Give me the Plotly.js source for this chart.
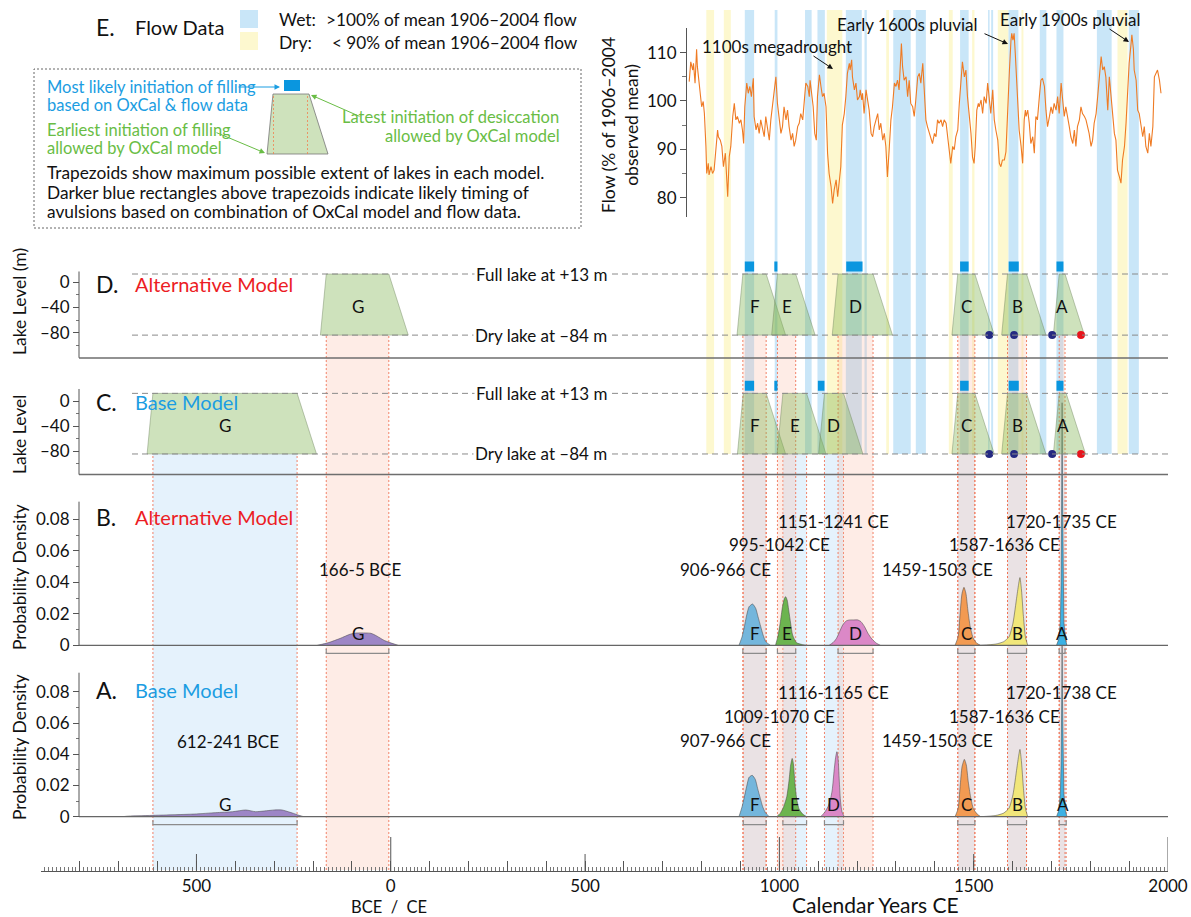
<!DOCTYPE html>
<html><head><meta charset="utf-8">
<script src="https://cdn.plot.ly/plotly-3.0.1.min.js"></script>
<style>html,body{margin:0;padding:0;background:#fff}#chart{width:1191px;height:917px}</style>
</head><body><div id="chart"></div>
<script>
// ---------------- DATA ----------------
// Reconstructed Colorado River flow (% of 1906–2004 observed mean), smoothed
const flowRecord = [
[768,104.0],[772,108.1],[777,106.4],[779,107.8],[783,103.7],[787,110.7],[789,107.1],[794,103.0],[796,101.9],[800,98.8],
[804,99.9],[807,97.4],[811,90.6],[813,85.0],[817,87.1],[819,84.7],[824,86.4],[828,85.0],[832,85.7],[837,90.6],
[841,94.0],[843,92.6],[848,91.9],[852,90.6],[856,86.4],[861,89.2],[864,83.7],[867,80.2],[871,88.5],[875,90.6],
[880,96.8],[884,99.5],[888,96.1],[892,96.8],[897,95.4],[901,96.1],[905,94.0],[908,91.2],[911,98.8],[916,103.7],
[920,101.6],[924,103.0],[928,100.9],[933,104.7],[935,96.8],[940,94.0],[944,95.4],[948,93.3],[952,96.1],[957,94.0],
[961,92.6],[965,96.8],[970,94.0],[974,91.9],[978,96.1],[982,98.8],[987,101.6],[991,105.0],[995,99.5],[1000,96.1],
[1004,93.3],[1008,94.7],[1012,98.8],[1017,96.1],[1021,98.1],[1025,94.7],[1030,91.9],[1034,93.3],[1038,90.6],[1042,91.9],
[1047,94.7],[1051,95.4],[1055,97.4],[1060,96.1],[1064,100.9],[1068,103.7],[1073,103.0],[1077,100.9],[1079,104.3],[1083,101.6],
[1087,98.8],[1091,93.3],[1095,91.9],[1098,100.9],[1103,105.4],[1107,103.0],[1111,100.9],[1115,101.6],[1120,98.8],[1124,89.2],
[1128,85.0],[1133,82.3],[1137,78.8],[1141,81.6],[1146,83.7],[1150,80.2],[1154,84.3],[1158,86.4],[1162,95.0],[1167,97.4],
[1171,100.9],[1175,105.7],[1180,107.8],[1182,106.4],[1186,108.5],[1188,105.0],[1193,102.3],[1197,103.7],[1201,100.2],[1206,100.9],
[1208,102.3],[1212,100.2],[1214,101.6],[1218,97.4],[1223,102.3],[1227,100.2],[1231,98.1],[1236,93.3],[1240,92.6],[1244,94.7],
[1248,96.1],[1253,97.4],[1257,94.0],[1261,95.4],[1266,91.9],[1270,93.3],[1274,90.6],[1278,84.3],[1283,90.6],[1287,96.1],
[1291,98.8],[1296,103.7],[1300,103.0],[1304,104.3],[1308,102.3],[1311,107.8],[1314,111.9],[1317,107.1],[1321,104.3],[1326,105.0],
[1330,100.9],[1334,104.3],[1338,99.5],[1343,98.8],[1347,96.8],[1351,100.2],[1356,105.0],[1360,105.7],[1364,103.7],[1369,107.8],
[1373,100.2],[1377,96.1],[1381,94.7],[1386,93.3],[1390,91.9],[1394,91.2],[1399,93.3],[1403,92.6],[1407,96.1],[1411,95.4],
[1416,96.1],[1420,94.7],[1424,96.1],[1429,95.4],[1433,92.6],[1437,89.2],[1441,87.1],[1446,90.6],[1450,89.9],[1454,92.6],
[1459,94.0],[1463,99.5],[1467,104.3],[1471,108.1],[1476,105.0],[1480,106.4],[1484,100.9],[1489,97.4],[1493,93.3],[1497,88.4],
[1501,87.1],[1504,90.6],[1508,98.1],[1512,99.5],[1514,98.8],[1519,100.2],[1523,97.4],[1527,100.9],[1532,99.5],[1536,103.7],
[1540,100.2],[1544,97.4],[1549,102.3],[1553,96.1],[1557,94.0],[1562,91.9],[1566,87.1],[1570,86.4],[1574,87.8],[1579,87.8],
[1583,89.5],[1586,96.1],[1589,103.0],[1592,106.4],[1596,112.6],[1598,114.0],[1601,112.6],[1604,114.0],[1607,109.9],[1610,105.7],
[1613,99.5],[1617,94.0],[1622,90.6],[1626,87.1],[1630,96.1],[1633,98.1],[1635,96.8],[1639,98.1],[1643,95.4],[1647,91.2],
[1652,92.6],[1656,89.2],[1660,96.8],[1664,96.1],[1669,100.9],[1673,104.3],[1677,104.7],[1682,103.0],[1686,98.1],[1690,94.7],
[1695,96.8],[1699,98.8],[1703,97.4],[1707,99.5],[1712,98.1],[1716,100.9],[1720,97.4],[1725,103.7],[1729,100.2],[1733,96.8],
[1737,98.8],[1742,96.8],[1746,94.7],[1750,92.6],[1755,91.2],[1759,94.0],[1763,90.6],[1767,94.7],[1772,96.1],[1776,98.8],
[1780,97.4],[1785,96.8],[1789,96.1],[1793,94.7],[1797,93.3],[1802,90.6],[1806,91.9],[1810,95.4],[1815,97.4],[1819,100.9],
[1823,104.3],[1828,109.2],[1832,106.4],[1836,107.1],[1840,105.0],[1845,98.1],[1849,105.0],[1853,101.6],[1858,96.1],[1862,93.3],
[1866,91.9],[1870,85.7],[1875,84.3],[1879,83.0],[1883,87.8],[1888,90.6],[1892,95.4],[1896,103.0],[1900,107.8],[1905,111.9],
[1907,113.7],[1911,110.7],[1913,106.4],[1918,104.3],[1922,98.1],[1926,97.4],[1930,94.7],[1935,92.6],[1939,94.7],[1943,90.6],
[1948,89.2],[1952,93.3],[1956,90.6],[1961,94.7],[1965,105.0],[1969,105.7],[1973,106.4],[1978,104.3],[1982,101.6]
];
const flowYears = flowRecord.map(d => d[0]);
const flowPct = flowRecord.map(d => d[1]);

// Wet (>100%) and dry (<90%) periods
const wetPeriods = [[911,935],[988,995],[1066,1083],[1098,1117],[1171,1212],[1219,1225],[1293,1338],[1351,1377],
  [1465,1487],[1537,1541],[1545,1550],[1589,1615],[1670,1687],[1713,1731],[1817,1855],[1899,1925]];
const dryPeriods = [[812,832],[857,875],[1122,1162],[1275,1282],[1436,1446],[1496,1502],[1562,1589],[1623,1628],[1870,1896]];

// Lakes (oldest to youngest)
const lakeNames = ['G','F','E','D','C','B','A'];
// Alternative model: filling start, full from, desiccation start, dry at
const altFillStart = [-181, 891, 980, 1136, 1444, 1572, 1705];
const altStart     = [-166, 906, 995, 1151, 1459, 1587, 1720];
const altEnd       = [-5,   966, 1042, 1241, 1503, 1636, 1735];
const altDryEnd    = [45,  1016, 1092, 1291, 1553, 1686, 1785];
// Base model
const baseFillStart = [-627, 892, 994, 1101, 1444, 1572, 1705];
const baseStart     = [-612, 907, 1009, 1116, 1459, 1587, 1720];
const baseEnd       = [-241, 966, 1070, 1165, 1503, 1636, 1738];
const baseDryEnd    = [-191, 1016, 1120, 1215, 1553, 1686, 1788];
const fullLakeLevel = 13, dryLakeLevel = -84;

// Most likely avulsion timing (blue rectangles)
const altAvulsion  = [[911,935],[987,995],[1172,1214],[1465,1487],[1590,1616],[1713,1731]];
const baseAvulsion = [[911,935],[987,995],[1099,1116],[1465,1487],[1590,1616],[1713,1731]];

// Historic observations at the dry-lake level
const obsYears = [1540, 1604, 1702, 1776];
const obsColors = ['#252a82','#252a82','#252a82','#e8141c'];

// Probability densities (OxCal), alternative model
const altDensYears = {
  G:[-189,-160,-130,-105,-90,-51,-36,-16,19],
  F:[896,904,909,916,922,931,939,945,952,958,965,977],
  E:[990,996,1002,1008,1013,1016,1020,1024,1029,1034,1044,1060,1070],
  D:[1128,1138,1147,1155,1163,1172,1181,1192,1202,1210,1219,1228,1238,1250,1260],
  C:[1452,1460,1465,1470,1475,1480,1485,1491,1499,1508,1518],
  B:[1518,1557,1577,1591,1601,1611,1616,1619,1623,1628,1633,1639],
  A:[1713,1719,1723,1725,1726.5,1727.5,1728.5,1730,1732,1736,1740]
};
const altDens = {
  G:[0,0.0017,0.0044,0.0070,0.0078,0.0076,0.0059,0.0030,0],
  F:[0,0.0055,0.0108,0.0193,0.0245,0.0262,0.0235,0.0182,0.0119,0.0066,0.0023,0],
  E:[0,0.0055,0.0140,0.0245,0.0298,0.0309,0.0288,0.0224,0.0140,0.0066,0.0017,0.0004,0],
  D:[0,0.0017,0.0044,0.0087,0.0129,0.0155,0.0161,0.0161,0.0161,0.0150,0.0119,0.0076,0.0040,0.0013,0],
  C:[0,0.0055,0.0203,0.0330,0.0368,0.0330,0.0224,0.0119,0.0044,0.0013,0],
  B:[0,0.0008,0.0023,0.0055,0.0140,0.0310,0.0394,0.0430,0.0351,0.0182,0.0055,0],
  A:[0,0.004,0.015,0.040,0.100,0.154,0.100,0.040,0.015,0.004,0]
};
// Base model
const baseDensYears = {
  G:[-690,-675,-605,-506,-450,-407,-373,-348,-320,-300,-280,-264,-250,-239,-224],
  F:[896,904,909,916,922,930,938,944,951,957,964,974],
  E:[993,1002,1011,1019,1025,1029,1033,1036,1040,1045,1051,1060,1070],
  D:[1106,1116,1125,1131,1136,1141,1145,1148,1151,1154,1157,1161,1167],
  C:[1452,1460,1465,1470,1476,1481,1486,1492,1499,1509,1518],
  B:[1518,1557,1577,1591,1601,1611,1616,1619,1623,1628,1633,1639],
  A:[1713,1719,1723,1725,1726.5,1727.5,1728.5,1730,1732,1736,1740]
};
const baseDens = {
  G:[0,0.0004,0.0009,0.0017,0.0026,0.0032,0.0043,0.0032,0.0038,0.0043,0.0043,0.0032,0.0021,0.0011,0],
  F:[0,0.0064,0.0117,0.0196,0.0252,0.0265,0.0239,0.0181,0.0117,0.0064,0.0026,0],
  E:[0,0.0021,0.0064,0.0128,0.0235,0.0331,0.0373,0.0341,0.0213,0.0107,0.0047,0.0017,0],
  D:[0,0.0026,0.0064,0.0107,0.0171,0.0299,0.0384,0.0416,0.0373,0.0235,0.0107,0.0032,0],
  C:[0,0.0053,0.0192,0.0320,0.0367,0.0331,0.0224,0.0128,0.0053,0.0017,0],
  B:[0,0.0008,0.0023,0.0055,0.0140,0.0310,0.0394,0.0431,0.0351,0.0182,0.0055,0],
  A:[0,0.004,0.015,0.035,0.075,0.110,0.075,0.035,0.015,0.004,0]
};
const lakeColors = {G:'#9d86c6',F:'#74b6dc',E:'#6cb44f',D:'#db88c7',C:'#f29a52',B:'#f1e67a',A:'#3cb1e4'};

// Bottom-axis tick labels
const yearTickLabels = {'-500':'500','0':'0','500':'500','1000':'1000','1500':'1500','2000':'2000'};

// ---------------- LAYOUT GEOMETRY ----------------
const FONT = 'Lato, "Open Sans", sans-serif';
const L=41, R=1168, T=8, B=871;
const px = x => (x-L)/(R-L);
const py = y => (B-y)/(B-T);
const geo = {
  y:  {top:637.1, bot:816.7, r:[0,0.115]},     // A. base prob
  y2: {top:399.6, bot:645.3, r:[0,0.156]},     // B. alt prob
  y3: {top:376.5, bot:474.6, r:[-117,40]},     // C. base lake
  y4: {top:257.0, bot:357.8, r:[-120,40]},     // D. alt lake
  y5: {top:28,    bot:217,   r:[76,115.1]}     // E. flow
};
const dom = g => [py(g.bot), py(g.top)];
function toPix(ax,v){const g=geo[ax];return g.bot-(v-g.r[0])/(g.r[1]-g.r[0])*(g.bot-g.top);}
function toPaper(ax,v){return py(toPix(ax,v));}
const AXX = px(79);

const shapes = [];
const annotations = [];
const traces = [];

// wet/dry bands
const bandBot = toPaper('y3', dryLakeLevel), bandTop = py(10);
wetPeriods.forEach(p => shapes.push({type:'rect',xref:'x',yref:'paper',x0:p[0],x1:p[1],y0:bandBot,y1:bandTop,fillcolor:'#c9e6f8',line:{width:0},layer:'below'}));
dryPeriods.forEach(p => shapes.push({type:'rect',xref:'x',yref:'paper',x0:p[0],x1:p[1],y0:bandBot,y1:bandTop,fillcolor:'#fdf8cf',line:{width:0},layer:'below'}));

// date-range columns
const colBot = py(870);
function column(a,b,top,fill){
  shapes.push({type:'rect',xref:'x',yref:'paper',x0:a,x1:b,y0:colBot,y1:top,fillcolor:fill,line:{width:0},layer:'below'});
  [a,b].forEach(v => shapes.push({type:'line',xref:'x',yref:'paper',x0:v,x1:v,y0:colBot,y1:top,line:{color:'rgba(240,110,80,0.85)',width:1,dash:'2px,2px'},layer:'below'}));
}
lakeNames.forEach((n,i) => column(baseStart[i], baseEnd[i], toPaper('y3',dryLakeLevel), 'rgba(175,215,245,0.32)'));
lakeNames.forEach((n,i) => column(altStart[i], altEnd[i], toPaper('y4',dryLakeLevel), 'rgba(250,180,155,0.25)'));

// panel frames
function hline(yp, x0, color, w, dash, layer){shapes.push({type:'line',xref:'paper',yref:'paper',x0:x0,x1:1,y0:py(yp),y1:py(yp),line:{color:color,width:w,dash:dash||'solid'},layer:layer||'above'});}
function vline(y0,y1){shapes.push({type:'line',xref:'paper',yref:'paper',x0:AXX,x1:AXX,y0:py(y0),y1:py(y1),line:{color:'#555',width:1}});}
hline(toPix('y4',-120)+0.2, AXX, '#6e6e6e', 1.5);
hline(474.6, AXX, '#6e6e6e', 1.5);
hline(645.3, AXX, '#666', 1.3);
hline(816.7, AXX, '#666', 1.3);
vline(toPix('y4',-120), toPix('y4',17));
vline(474.6, toPix('y3',20));
vline(645.3, toPix('y2',0.0912));
vline(816.7, toPix('y',0.0922));
// dashed full/dry lake lines
['y4','y3'].forEach(ax => [fullLakeLevel, dryLakeLevel].forEach(v =>
  shapes.push({type:'line',xref:'paper',yref:ax,x0:px(132),x1:1,y0:v,y1:v,line:{color:'#8a8a8a',width:1,dash:'6px,4px'},layer:'above'})));

// brackets under distributions
function bracket(a,b,yb){
  shapes.push({type:'path',xref:'x',yref:'paper',path:`M ${a},${py(yb+3.5)} L ${a},${py(yb+8)} L ${b},${py(yb+8)} L ${b},${py(yb+3.5)}`,line:{color:'#8c8c8c',width:1.2}});
}
lakeNames.forEach((n,i)=>{bracket(altStart[i],altEnd[i],645.3); bracket(baseStart[i],baseEnd[i],816.7);});

// ruler long ticks
[[-500,17],[0,34],[500,17],[1000,34],[1500,17],[2000,34]].forEach(t =>
  shapes.push({type:'line',xref:'x',yref:'paper',x0:t[0],x1:t[0],y0:py(871),y1:py(871-t[1]),line:{color:'#555',width:1}}));

// ---------------- TRACES ----------------
// flow
traces.push({type:'scatter',mode:'lines',x:flowYears,y:flowPct,xaxis:'x',yaxis:'y5',line:{color:'#ef7b24',width:1.1},hoverinfo:'skip'});

// trapezoids
function trapezoids(ax, fs, s, e, de){
  lakeNames.forEach((n,i)=>{
    traces.push({type:'scatter',mode:'lines',xaxis:'x',yaxis:ax,
      x:[fs[i],s[i],e[i],de[i],fs[i]],y:[dryLakeLevel,fullLakeLevel,fullLakeLevel,dryLakeLevel,dryLakeLevel],
      fill:'toself',fillcolor:'rgba(125,178,78,0.38)',line:{color:'rgba(110,130,95,0.55)',width:0.8},hoverinfo:'skip'});
    annotations.push({xref:'x',yref:ax,x:(s[i]+e[i])/2,y:-38,text:n,showarrow:false,font:{family:FONT,size:17,color:'#111'}});
  });
}
trapezoids('y4', altFillStart, altStart, altEnd, altDryEnd);
trapezoids('y3', baseFillStart, baseStart, baseEnd, baseDryEnd);

// avulsion rectangles
function avulsions(ax, list){
  list.forEach(p => traces.push({type:'scatter',mode:'lines',xaxis:'x',yaxis:ax,x:[p[0],p[1],p[1],p[0],p[0]],y:[17,17,33,33,17],
    fill:'toself',fillcolor:'#0a96df',line:{width:0,color:'#0a96df'},hoverinfo:'skip'}));
}
avulsions('y4', altAvulsion);
avulsions('y3', baseAvulsion);

// observation dots
['y4','y3'].forEach(ax => traces.push({type:'scatter',mode:'markers',xaxis:'x',yaxis:ax,x:obsYears,y:obsYears.map(()=>dryLakeLevel),
  marker:{size:8,color:obsColors},hoverinfo:'skip'}));

// distributions
function dists(ax, yrs, dens, starts, ends){
  lakeNames.forEach((n,i)=>{
    traces.push({type:'scatter',mode:'lines',xaxis:'x',yaxis:ax,x:yrs[n],y:dens[n],fill:'tozeroy',fillcolor:lakeColors[n],
      line:{color:'rgba(70,70,70,0.75)',width:0.7,shape:n==='A'?'linear':'spline',smoothing:0.6},hoverinfo:'skip'});
    annotations.push({xref:'x',yref:ax,x:(starts[i]+ends[i])/2,y:0.0076,text:n,showarrow:false,font:{family:FONT,size:17,color:'#111'}});
  });
}
dists('y2', altDensYears, altDens, altStart, altEnd);
dists('y', baseDensYears, baseDens, baseStart, baseEnd);

// date range labels
const rangeText = (a,b) => (a<0 && b<0) ? `${-a}-${-b} BCE` : `${a}-${b} CE`;
const altLabelPos  = [[-78,0.0484],[862,0.0484],[1001,0.0637],[1140,0.0785],[1408,0.0484],[1578,0.0637],[1727,0.0785]];
const baseLabelPos = [[-420,0.0480],[862,0.0491],[1001,0.0640],[1140,0.0794],[1408,0.0491],[1578,0.0640],[1727,0.0794]];
lakeNames.forEach((n,i)=>{
  annotations.push({xref:'x',yref:'y2',x:altLabelPos[i][0],y:altLabelPos[i][1],text:rangeText(altStart[i],altEnd[i]),showarrow:false,font:{family:FONT,size:17,color:'#111'}});
  annotations.push({xref:'x',yref:'y',x:baseLabelPos[i][0],y:baseLabelPos[i][1],text:rangeText(baseStart[i],baseEnd[i]),showarrow:false,font:{family:FONT,size:17,color:'#111'}});
});

// ---------------- TEXT ----------------
function ann(text,x,y,o){annotations.push(Object.assign({text:text,xref:'paper',yref:'paper',x:px(x),y:py(y),showarrow:false,xanchor:'left',yanchor:'middle',font:{family:FONT,size:17,color:'#111'}},o||{}));}
function arrow(tx,ty,hx,hy,color){annotations.push({text:'',xref:'paper',yref:'paper',x:px(hx),y:py(hy),ax:tx-hx,ay:ty-hy,showarrow:true,arrowhead:2,arrowsize:1.1,arrowwidth:1,arrowcolor:color,standoff:0,startstandoff:0});}
const RED='#ec1c24', BLUE='#1b9de2', GREEN='#69bd45';

ann('E.',94,27,{font:{family:FONT,size:23,color:'#111'}});
ann('Flow Data',133,27,{font:{family:FONT,size:20,color:'#111'}});
shapes.push({type:'rect',xref:'paper',yref:'paper',x0:px(240),x1:px(258),y0:py(28),y1:py(10),fillcolor:'#c9e6f8',line:{width:0}});
shapes.push({type:'rect',xref:'paper',yref:'paper',x0:px(240),x1:px(258),y0:py(50),y1:py(32),fillcolor:'#fdf8cf',line:{width:0}});
ann('Wet:',277,20,{font:{family:FONT,size:17.5,color:'#111'}});
ann('>100% of mean 1906–2004 flow',324,20,{font:{family:FONT,size:17.2,color:'#111'}});
ann('Dry:',277,42,{font:{family:FONT,size:17.5,color:'#111'}});
ann('< 90% of mean 1906–2004 flow',330,42,{font:{family:FONT,size:17.2,color:'#111'}});

// explanation box
shapes.push({type:'rect',xref:'paper',yref:'paper',x0:px(34),x1:px(581),y0:py(228),y1:py(69),line:{color:'#666',width:1,dash:'2px,2px'}});
ann('Most likely initiation of filling',45,87,{font:{family:FONT,size:16.5,color:BLUE}});
ann('based on OxCal &amp; flow data',45,105,{font:{family:FONT,size:16.5,color:BLUE}});
arrow(237,87,280,87,BLUE);
shapes.push({type:'rect',xref:'paper',yref:'paper',x0:px(284),x1:px(300),y0:py(91),y1:py(80),fillcolor:'#0a96df',line:{width:0}});
shapes.push({type:'path',xref:'paper',yref:'paper',path:`M ${px(267)},${py(154)} L ${px(273)},${py(94)} L ${px(309)},${py(94)} L ${px(328)},${py(154)} Z`,fillcolor:'rgba(125,178,78,0.38)',line:{color:'#777',width:0.8}});
[273.5,307.5].forEach(x=>shapes.push({type:'line',xref:'paper',yref:'paper',x0:px(x),x1:px(x),y0:py(154),y1:py(95),line:{color:'rgba(240,130,80,0.8)',width:1,dash:'2px,2px'}}));
ann('Latest initiation of desiccation',561,117,{xanchor:'right',font:{family:FONT,size:16.5,color:GREEN}});
ann('allowed by OxCal model',562,136,{xanchor:'right',font:{family:FONT,size:16.5,color:GREEN}});
arrow(361,117,311,95,GREEN);
ann('Earliest initiation of filling',45,130,{font:{family:FONT,size:16.5,color:GREEN}});
ann('allowed by OxCal model',45,148,{font:{family:FONT,size:16.5,color:GREEN}});
arrow(215,132,265,153,GREEN);
ann('Trapezoids show maximum possible extent of lakes in each model.',45,173,{font:{family:FONT,size:17.3,color:'#111'}});
ann('Darker blue rectangles above trapezoids indicate likely timing of',45,193,{font:{family:FONT,size:17.3,color:'#111'}});
ann('avulsions based on combination of OxCal model and flow data.',45,212,{font:{family:FONT,size:17.3,color:'#111'}});

// flow annotations
ann('1100s megadrought',700,47);
arrow(812,55,833,69,'#111');
ann('Early 1600s pluvial',835,25);
arrow(983,33,1008,44,'#111');
ann('Early 1900s pluvial',998,19);
arrow(1108,28,1129,42,'#111');
ann('Flow (% of 1906–2004<br>observed mean)',620,125,{xanchor:'center',textangle:-90,font:{family:FONT,size:17.5,color:'#111'}});

// panel labels
[['D.','Alternative Model',RED,284],['C.','Base Model',BLUE,402],['B.','Alternative Model',RED,517],['A.','Base Model',BLUE,690]].forEach(p=>{
  ann(p[0],94,p[3],{font:{family:FONT,size:23,color:'#111'}});
  ann(p[1],133,p[3],{font:{family:FONT,size:20,color:p[2]}});
});
// lake level labels
['y4','y3'].forEach(ax=>{
  ann('Full lake at +13 m',541,toPix(ax,fullLakeLevel),{xanchor:'center',bgcolor:'#ffffff',borderpad:1});
  ann('Dry lake at –84 m',541,toPix(ax,dryLakeLevel),{xanchor:'center',bgcolor:'#ffffff',borderpad:1});
});
// axis titles
ann('Lake Level (m)',19,302,{xanchor:'center',textangle:-90,font:{family:FONT,size:17.5,color:'#111'}});
ann('Lake Level',19,435,{xanchor:'center',textangle:-90,font:{family:FONT,size:17.5,color:'#111'}});
ann('Probability Density',19,577,{xanchor:'center',textangle:-90,font:{family:FONT,size:17.5,color:'#111'}});
ann('Probability Density',19,747,{xanchor:'center',textangle:-90,font:{family:FONT,size:17.5,color:'#111'}});
ann('BCE  /  CE',389,906.5,{xanchor:'center',font:{family:FONT,size:16.5,color:'#111'}});
ann('Calendar Years CE',875,905,{xanchor:'center',font:{family:FONT,size:21,color:'#111'}});

// ---------------- AXES ----------------
const tickVals = []; for (let v=-900; v<=2000; v+=100) tickVals.push(v);
const tickText = tickVals.map(v => yearTickLabels[String(v)] || '');
function yax(key, o){
  return Object.assign({domain:dom(geo[key]),range:geo[key].r,anchor:'free',position:AXX,showline:false,showgrid:false,zeroline:false,
    ticks:'outside',ticklen:6,tickwidth:1,tickcolor:'#555',tickfont:{family:FONT,size:17,color:'#111'},fixedrange:true},o);
}
const probTicks = {tickmode:'array',tickvals:[0,0.02,0.04,0.06,0.08],ticktext:['0','0.02','0.04','0.06','0.08'],
  minor:{tickmode:'array',tickvals:[0.01,0.03,0.05,0.07],ticks:'outside',ticklen:3,tickcolor:'#777'}};
const lakeTicks = {tickmode:'array',tickvals:[0,-40,-80],ticktext:['0','–40','–80'],
  minor:{tickmode:'array',tickvals:[-20,-60,-100],ticks:'outside',ticklen:3,tickcolor:'#777'}};

const layout = {
  width:1191,height:917,margin:{l:L,r:1191-R,t:T,b:917-B,pad:0},
  paper_bgcolor:'#ffffff',plot_bgcolor:'rgba(0,0,0,0)',showlegend:false,
  font:{family:FONT,size:17,color:'#111'},
  xaxis:{range:[-900,2000],domain:[0,1],anchor:'free',position:0,showline:true,linecolor:'#555',linewidth:1,
    ticks:'inside',tickmode:'array',tickvals:tickVals,ticktext:tickText,ticklen:10,tickcolor:'#555',tickwidth:1,
    tickfont:{family:FONT,size:17,color:'#111'},showgrid:false,zeroline:false,fixedrange:true,
    minor:{ticks:'inside',tickmode:'linear',tick0:0,dtick:10,ticklen:4,tickcolor:'#777',tickwidth:1}},
  yaxis: yax('y', probTicks),
  yaxis2: yax('y2', probTicks),
  yaxis3: yax('y3', lakeTicks),
  yaxis4: yax('y4', lakeTicks),
  yaxis5: yax('y5', {position:px(686),showline:true,linecolor:'#555',linewidth:1,tickmode:'array',tickvals:[80,90,100,110],
    minor:{tickmode:'array',tickvals:[85,95,105],ticks:'outside',ticklen:4,tickcolor:'#777'}}),
  shapes:shapes,annotations:annotations
};
Plotly.newPlot('chart',traces,layout,{displayModeBar:false,staticPlot:true});
</script></body></html>
